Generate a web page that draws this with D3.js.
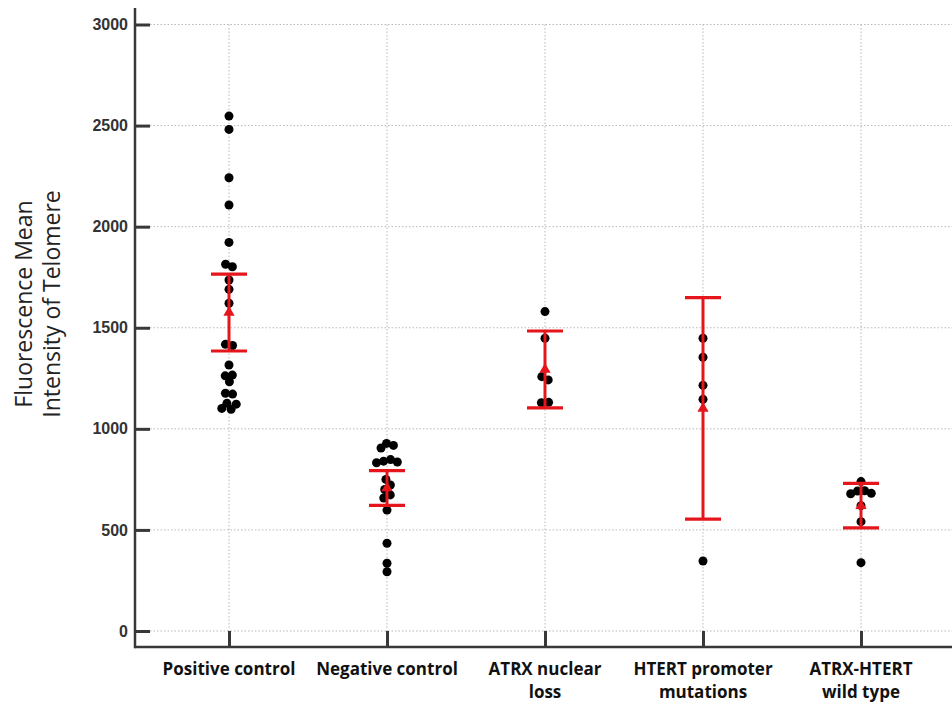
<!DOCTYPE html>
<html>
<head>
<meta charset="utf-8">
<script src="https://cdn.jsdelivr.net/npm/d3@7"></script>
<style>
  html, body { margin: 0; padding: 0; background: #fff; }
  svg { display: block; }
</style>
</head>
<body>
<svg id="chart" width="952" height="704"></svg>
<script>
// ---------- data ----------
const categories = ["Positive control", "Negative control", "ATRX nuclear loss", "HTERT promoter mutations", "ATRX-HTERT wild type"];
const categoryLines = [["Positive control"], ["Negative control"], ["ATRX nuclear", "loss"], ["HTERT promoter", "mutations"], ["ATRX-HTERT", "wild type"]];
const positiveControl = [2547, 2481, 2242, 2107, 1922, 1814, 1802, 1736, 1690, 1621, 1418, 1412, 1316, 1266, 1262, 1233, 1176, 1172, 1126, 1122, 1101, 1097];
const negativeControl = [928, 918, 905, 848, 840, 836, 832, 750, 722, 700, 673, 658, 598, 434, 335, 293];
const atrxNuclearLoss = [1580, 1448, 1258, 1242, 1131, 1129];
const htertPromoter = [1448, 1354, 1215, 1146, 346];
const atrxHtertWildType = [739, 694, 692, 681, 679, 620, 541, 338];
const seriesValues = [positiveControl, negativeControl, atrxNuclearLoss, htertPromoter, atrxHtertWildType];
const means = [1575, 707, 1294, 1101, 620];
const errors = [190, 86, 190, 548, 110];
const yTicks = [0, 500, 1000, 1500, 2000, 2500, 3000];
const yTitleLines = ["Fluorescence Mean", "Intensity of Telomere"];

// ---------- layout ----------
const svg = d3.select("#chart");
const axisX = 135, axisY = 647, rightEdge = 952, topEdge = 8;
const y = d3.scaleLinear().domain([0, 3000]).range([631, 24.5]);
const x = d3.scalePoint().domain(categories).range([229, 861]);
const axisColor = "#383838";
const red = "#e4161b";

// grid lines (dotted)
const grid = svg.append("g");
grid.selectAll("line.h").data(yTicks).join("line")
  .attr("x1", axisX + 15).attr("x2", rightEdge)
  .attr("y1", d => y(d)).attr("y2", d => y(d))
  .attr("stroke", "#b8b8b8").attr("stroke-width", 1).attr("stroke-dasharray", "1.5,2");
grid.selectAll("line.v").data(categories).join("line")
  .attr("x1", d => x(d)).attr("x2", d => x(d))
  .attr("y1", y(3000)).attr("y2", y(0))
  .attr("stroke", "#b8b8b8").attr("stroke-width", 1).attr("stroke-dasharray", "1.5,2");

// y axis
const yAxis = svg.append("g").attr("transform", `translate(${axisX},0)`)
  .call(d3.axisLeft(y).tickValues(yTicks).tickSize(-15).tickPadding(7).tickFormat(d3.format("d")));
yAxis.select(".domain").remove();
yAxis.selectAll(".tick line").attr("stroke", axisColor).attr("stroke-width", 3);
yAxis.selectAll(".tick text")
  .attr("font-family", "Liberation Sans, Arial, sans-serif")
  .attr("font-weight", "bold").attr("font-size", 16).attr("fill", "#333");
svg.append("line").attr("x1", axisX).attr("x2", axisX).attr("y1", topEdge).attr("y2", axisY + 1.25)
  .attr("stroke", axisColor).attr("stroke-width", 2.5);

// x axis
const xAxis = svg.append("g").attr("transform", `translate(0,${axisY})`)
  .call(d3.axisBottom(x).tickSize(-16).tickFormat(""));
xAxis.select(".domain").remove();
xAxis.selectAll(".tick line").attr("stroke", axisColor).attr("stroke-width", 3);
svg.append("line").attr("x1", axisX).attr("x2", rightEdge).attr("y1", axisY).attr("y2", axisY)
  .attr("stroke", axisColor).attr("stroke-width", 2.5);

// x labels
const xl = svg.append("g");
categories.forEach((c, i) => {
  const t = xl.append("text")
    .attr("x", x(c)).attr("y", 675)
    .attr("text-anchor", "middle")
    .attr("font-family", "Open Sans, Noto Sans, sans-serif")
    .attr("font-weight", "bold").attr("font-size", 17).attr("fill", "#111");
  categoryLines[i].forEach((ln, j) => {
    t.append("tspan").attr("x", x(c)).attr("dy", j === 0 ? 0 : 23).text(ln);
  });
});

// y title
const yt = svg.append("text")
  .attr("transform", "translate(0,304) rotate(-90)")
  .attr("text-anchor", "middle")
  .attr("font-family", "Open Sans, Noto Sans, sans-serif")
  .attr("font-size", 23).attr("fill", "#222");
yTitleLines.forEach((ln, j) => {
  yt.append("tspan").attr("x", 0).attr("y", j === 0 ? 32 : 60).text(ln);
});

// points (beeswarm via force simulation, y fixed)
const nodes = [];
seriesValues.forEach((vals, i) => {
  vals.forEach(v => nodes.push({ cat: categories[i], value: v, x: x(categories[i]), fy: y(v), y: y(v) }));
});
const sim = d3.forceSimulation(nodes)
  .force("x", d3.forceX(d => x(d.cat)).strength(0.1))
  .force("collide", d3.forceCollide(3.6))
  .stop();
for (let k = 0; k < 300; k++) sim.tick();

svg.append("g").selectAll("circle").data(nodes).join("circle")
  .attr("cx", d => d.x).attr("cy", d => d.fy).attr("r", 4.5).attr("fill", "#000");

// error bars
const eb = svg.append("g");
categories.forEach((c, i) => {
  const cx = x(c);
  const top = y(means[i] + errors[i]), bot = y(means[i] - errors[i]);
  eb.append("line").attr("x1", cx).attr("x2", cx).attr("y1", top).attr("y2", bot)
    .attr("stroke", red).attr("stroke-width", 3);
  [top, bot].forEach(yy => {
    eb.append("line").attr("x1", cx - 18).attr("x2", cx + 18).attr("y1", yy).attr("y2", yy)
      .attr("stroke", red).attr("stroke-width", 3.2);
  });
  eb.append("path").attr("d", d3.symbol(d3.symbolTriangle, 55)())
    .attr("transform", `translate(${cx},${y(means[i])})`).attr("fill", red);
});
</script>
</body>
</html>
